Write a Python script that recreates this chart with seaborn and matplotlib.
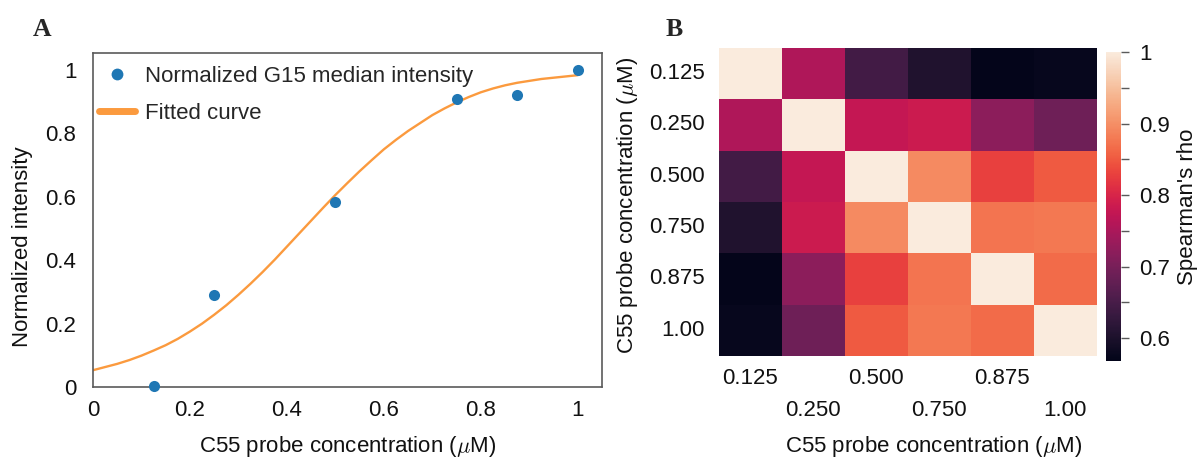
import numpy as np
import pandas as pd
import matplotlib
matplotlib.use("Agg")
import matplotlib.pyplot as plt
import seaborn as sns
from matplotlib.lines import Line2D
from matplotlib.ticker import FixedLocator, FormatStrFormatter
from matplotlib.transforms import ScaledTranslation

# ---------------- data ----------------
conc = [0.125, 0.25, 0.5, 0.75, 0.875, 1.0]
intensity = [0.003, 0.29, 0.585, 0.909, 0.921, 1.0]

fit_x = [0.0, 0.025, 0.05, 0.075, 0.10, 0.125, 0.15, 0.175, 0.20, 0.225, 0.25,
         0.275, 0.30, 0.325, 0.35, 0.375, 0.40, 0.425, 0.45, 0.475, 0.50,
         0.525, 0.55, 0.575, 0.60, 0.625, 0.65, 0.675, 0.70, 0.725, 0.75,
         0.775, 0.80, 0.825, 0.85, 0.875, 0.90, 0.925, 0.95, 0.975, 1.0]
fit_y = [0.053, 0.063, 0.073, 0.085, 0.099, 0.115, 0.132, 0.152, 0.175, 0.200, 0.228,
         0.258, 0.291, 0.326, 0.363, 0.402, 0.443, 0.484, 0.525, 0.566, 0.606,
         0.644, 0.681, 0.716, 0.750, 0.780, 0.808, 0.833, 0.858, 0.879, 0.898,
         0.915, 0.930, 0.942, 0.952, 0.960, 0.966, 0.972, 0.976, 0.980, 0.984]

labels = ["0.125", "0.250", "0.500", "0.750", "0.875", "1.00"]
rho = [
    [1.000, 0.755, 0.643, 0.605, 0.570, 0.576],
    [0.755, 1.000, 0.776, 0.785, 0.720, 0.690],
    [0.643, 0.776, 1.000, 0.895, 0.828, 0.850],
    [0.605, 0.785, 0.895, 1.000, 0.875, 0.877],
    [0.570, 0.720, 0.828, 0.875, 1.000, 0.865],
    [0.576, 0.690, 0.850, 0.877, 0.865, 1.000],
]
cbar_ticks = [0.6, 0.7, 0.8, 0.9, 1.0]

# ---------------- style ----------------
sns.set_style("white")
plt.rcParams["font.family"] = ["Liberation Sans", "DejaVu Sans"]
plt.rcParams["mathtext.fontset"] = "cm"
FS = 16
GREY = "#5a5a5a"
TXT = "#111111"
BLUE = "#1f77b4"
ORANGE = "#fb9a3e"

W, H = 1198, 459
fig = plt.figure(figsize=(W / 100, H / 100), dpi=100)

# ---------------- panel A ----------------
axA = fig.add_axes([93 / W, 72 / H, 509 / W, 334 / H])
sns.lineplot(x=fit_x, y=fit_y, ax=axA, color=ORANGE, lw=1.7, sort=False)
sns.scatterplot(x=conc, y=intensity, ax=axA, color=BLUE, s=64, linewidth=0, zorder=3,
                clip_on=False)
axA.set_xlim(0, 1.05)
axA.set_ylim(0, 1.054)
ticks = [0, 0.2, 0.4, 0.6, 0.8, 1.0]
axA.set_xticks(ticks)
axA.set_yticks(ticks)
axA.xaxis.set_major_formatter(FormatStrFormatter("%g"))
axA.yaxis.set_major_formatter(FormatStrFormatter("%g"))
axA.tick_params(axis="both", which="major", labelsize=FS, length=5, width=1,
                color=GREY, labelcolor=TXT, direction="out")
axA.tick_params(axis="x", pad=4)
axA.tick_params(axis="y", pad=7)
for sp in axA.spines.values():
    sp.set_color(GREY)
    sp.set_linewidth(1.2)
axA.set_xlabel(r"C55 probe concentration ($\mu$M)", fontsize=FS, color=TXT)
axA.set_ylabel("Normalized intensity", fontsize=FS, color=TXT)
axA.xaxis.set_label_coords(0.5, -0.141)
axA.yaxis.set_label_coords(-0.117, 0.42)

handles = [
    Line2D([], [], marker="o", ls="", color=BLUE, markersize=8.5, markeredgewidth=0),
    Line2D([], [], color=ORANGE, lw=5),
]
axA.legend(handles, ["Normalized G15 median intensity", "Fitted curve"],
           loc="upper left", bbox_to_anchor=(0.012, 0.962), frameon=False,
           fontsize=FS, handlelength=1.6, handletextpad=0.45, labelspacing=0.72,
           borderpad=0, borderaxespad=0)

# ---------------- panel B ----------------
axB = fig.add_axes([719 / W, 103 / H, 377.6 / W, 308 / H])
cax = fig.add_axes([1106 / W, 98 / H, 15 / W, 309 / H])
df = pd.DataFrame(rho, index=labels, columns=labels)
sns.heatmap(df, ax=axB, cbar_ax=cax, cmap="rocket", vmin=0.568, vmax=1.0,
            cbar_kws={"ticks": cbar_ticks, "label": "Spearman's rho"})
axB.tick_params(axis="both", labelsize=FS, length=5, width=1, color=GREY,
                labelcolor=TXT)
axB.tick_params(axis="x", pad=4, labelrotation=0)
axB.tick_params(axis="y", pad=5, labelrotation=0)
offset = ScaledTranslation(0, -32 / 100, fig.dpi_scale_trans)
for i, lab in enumerate(axB.get_xticklabels()):
    if i % 2 == 1:
        lab.set_transform(lab.get_transform() + offset)
axB.set_xlabel(r"C55 probe concentration ($\mu$M)", fontsize=FS, color=TXT)
axB.set_ylabel(r"C55 probe concentration ($\mu$M)", fontsize=FS, color=TXT)
axB.xaxis.set_label_coords(0.569, -0.252)
axB.yaxis.set_label_coords(-0.208, 0.49)

cax.yaxis.set_minor_locator(FixedLocator([0.65, 0.75, 0.85, 0.95]))
cax.yaxis.set_major_formatter(FormatStrFormatter("%g"))
cax.tick_params(which="both", length=6, width=1, color=GREY, labelsize=FS,
                labelcolor=TXT, pad=7)
cax.yaxis.label.set_fontsize(FS)
cax.yaxis.label.set_color(TXT)
cax.yaxis.set_label_coords(4.75, 0.5)

# ---------------- panel letters ----------------
fig.text(42 / W, 1 - 29 / H, "A", fontsize=18.5, fontweight="bold",
         family="Liberation Serif", ha="center", va="center")
fig.text(674 / W, 1 - 29 / H, "B", fontsize=18.5, fontweight="bold",
         family="Liberation Serif", ha="center", va="center")

fig.savefig("out.png", dpi=100)
